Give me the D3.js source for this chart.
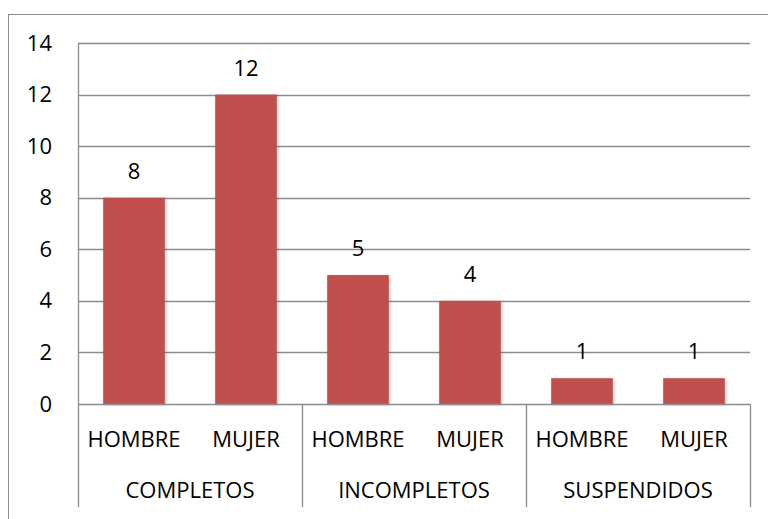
<!DOCTYPE html>
<html>
<head>
<meta charset="utf-8">
<script src="https://cdn.jsdelivr.net/npm/d3@7"></script>
<style>
  body { margin: 0; background: #fff; }
  svg text { font-family: "Open Sans", "Liberation Sans", sans-serif; fill: #000; }
</style>
</head>
<body>
<div id="chart"></div>
<script>
/***** data *****/
var groups = ["COMPLETOS", "INCOMPLETOS", "SUSPENDIDOS"];
var sexes = ["HOMBRE", "MUJER"];
var values = [8, 12, 5, 4, 1, 1];
var yTicks = [0, 2, 4, 6, 8, 10, 12, 14];

var width = 768, height = 519;
var margin = {top: 43, right: 18, bottom: 115, left: 78};
var innerW = 750 - margin.left;
var innerH = 404 - margin.top;

var rows = [];
groups.forEach(function(g, i) {
  sexes.forEach(function(s, j) {
    rows.push({group: g, sex: s, key: g + "|" + s, value: values[i * sexes.length + j]});
  });
});

var svg = d3.select("#chart").append("svg")
  .attr("width", width)
  .attr("height", height);

// shadow for bars
var defs = svg.append("defs");
var filt = defs.append("filter").attr("id", "shadow")
  .attr("x", "-20%").attr("y", "-20%").attr("width", "140%").attr("height", "140%");
filt.append("feDropShadow").attr("dx", 1).attr("dy", 1).attr("stdDeviation", 1.5)
  .attr("flood-color", "#000").attr("flood-opacity", 0.25);

// outer chart border
svg.append("rect")
  .attr("x", 8.5).attr("y", 14.5)
  .attr("width", width).attr("height", height)
  .attr("fill", "none").attr("stroke", "#8c8c8c").attr("stroke-width", 1);

var g = svg.append("g").attr("transform", "translate(" + margin.left + "," + margin.top + ")");

//scales
var xGroup = d3.scaleBand().domain(groups).range([0, innerW]);
var xBar = d3.scaleBand().domain(rows.map(function(d) { return d.key; }))
  .range([0, innerW]).paddingInner(0.45).paddingOuter(0.225);
var y = d3.scaleLinear().domain([0, 14]).range([innerH, 0]);

//gridlines
g.selectAll("line.grid").data(yTicks.slice(1))
  .enter().append("line")
  .attr("class", "grid")
  .attr("x1", 0).attr("x2", innerW)
  .attr("y1", function(d) { return Math.round(y(d)) + 0.5; })
  .attr("y2", function(d) { return Math.round(y(d)) + 0.5; })
  .attr("stroke", "#8c8c8c").attr("stroke-width", 1.3);

//y axis
var yAxis = d3.axisLeft(y).tickValues(yTicks).tickSize(0).tickPadding(26);
var yG = g.append("g").call(yAxis);
yG.select(".domain").remove();
yG.selectAll("text").style("font-size", "22px").attr("fill", "#000");
g.append("line")
  .attr("x1", 0.5).attr("x2", 0.5).attr("y1", 0).attr("y2", innerH)
  .attr("stroke", "#8c8c8c").attr("stroke-width", 1.3);

//bars
g.selectAll("rect.bar").data(rows)
  .enter().append("rect")
  .attr("class", "bar")
  .attr("x", function(d) { return xBar(d.key); })
  .attr("y", function(d) { return y(d.value); })
  .attr("width", xBar.bandwidth())
  .attr("height", function(d) { return innerH - y(d.value); })
  .attr("fill", "#C0504D")
  .attr("filter", "url(#shadow)");

//value labels
g.selectAll("text.val").data(rows)
  .enter().append("text")
  .attr("class", "val")
  .attr("x", function(d) { return xBar(d.key) + xBar.bandwidth() / 2; })
  .attr("y", function(d) { return y(d.value) - 19; })
  .attr("text-anchor", "middle")
  .style("font-size", "22px")
  .text(function(d) { return d.value; });

//x axis baseline
g.append("line")
  .attr("x1", 0).attr("x2", innerW)
  .attr("y1", innerH + 0.5).attr("y2", innerH + 0.5)
  .attr("stroke", "#8c8c8c").attr("stroke-width", 1.3);

//group separators
var seps = groups.map(function(d) { return xGroup(d); }).concat([innerW]);
g.selectAll("line.sep").data(seps)
  .enter().append("line")
  .attr("class", "sep")
  .attr("x1", function(d) { return d + 0.5; })
  .attr("x2", function(d) { return d + 0.5; })
  .attr("y1", innerH).attr("y2", 507 - margin.top)
  .attr("stroke", "#8c8c8c").attr("stroke-width", 1.3);

//sex labels
g.selectAll("text.sex").data(rows)
  .enter().append("text")
  .attr("class", "sex")
  .attr("x", function(d) { return xBar(d.key) + xBar.bandwidth() / 2; })
  .attr("y", innerH + 43)
  .attr("text-anchor", "middle")
  .style("font-size", "22px")
  .text(function(d) { return d.sex; });

//group labels
g.selectAll("text.grp").data(groups)
  .enter().append("text")
  .attr("class", "grp")
  .attr("x", function(d) { return xGroup(d) + xGroup.bandwidth() / 2; })
  .attr("y", innerH + 94)
  .attr("text-anchor", "middle")
  .style("font-size", "22px")
  .text(function(d) { return d; });
</script>
</body>
</html>
